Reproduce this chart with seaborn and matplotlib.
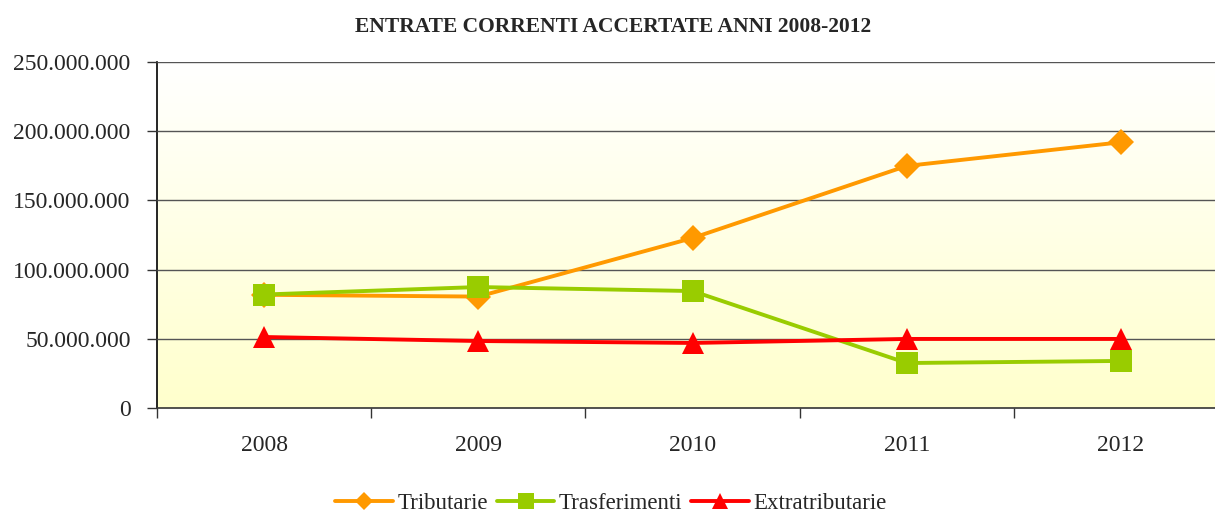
import matplotlib
matplotlib.use("Agg")
import matplotlib.pyplot as plt
import numpy as np
import pandas as pd
import seaborn as sns
from matplotlib.colors import LinearSegmentedColormap

# values
anni = ["2008", "2009", "2010", "2011", "2012"]
tributarie = [81.8e6, 80.5e6, 122.8e6, 174.9e6, 192.0e6]
trasferimenti = [82.0e6, 87.4e6, 84.5e6, 32.5e6, 34.0e6]
extratributarie = [51.3e6, 48.4e6, 47.0e6, 49.9e6, 49.9e6]
serie = ["Tributarie", "Trasferimenti", "Extratributarie"]

df = pd.DataFrame({
    "pos": list(range(len(anni))) * 3,
    "valore": tributarie + trasferimenti + extratributarie,
    "serie": np.repeat(serie, len(anni)),
})

sns.set_style("white")
plt.rcParams["font.family"] = ["Liberation Serif", "DejaVu Serif"]

fig = plt.figure(figsize=(12.15, 5.17), dpi=100)
ax = fig.add_axes([157 / 1215, 1 - 408 / 517, (1228 - 157) / 1215, (408 - 62) / 517])

# background gradient white (top) -> pale yellow (bottom)
grad = np.linspace(0, 1, 256).reshape(-1, 1)
cmap = LinearSegmentedColormap.from_list("bg", ["#FFFFFF", "#FFFFCC"])
ax.imshow(grad, cmap=cmap, aspect="auto", extent=[-0.5, 4.5, 0, 250e6],
          origin="upper", zorder=0)

colori = {"Tributarie": "#FF9900", "Trasferimenti": "#99CC00",
          "Extratributarie": "#FF0000"}
marcatori = {"Tributarie": "D", "Trasferimenti": "s", "Extratributarie": "^"}

sns.lineplot(data=df, x="pos", y="valore", hue="serie", style="serie",
             palette=colori, markers=marcatori, dashes=False, linewidth=2.8,
             markersize=16, markeredgewidth=0, ax=ax, legend=False, zorder=3)
for line in ax.lines:
    if line.get_marker() == "D":
        line.set_markersize(13.5)

ax.set_xlim(-0.5, 4.5)
ax.set_ylim(0, 250e6)
ax.set_xticks(range(len(anni)))
ax.set_xticklabels(anni)
ax.set_xticks(np.arange(-0.5, 5, 1), minor=True)
ax.set_yticks(np.arange(0, 250e6 + 1, 50e6))
ax.set_yticklabels(["0" if v == 0 else f"{int(v):,}".replace(",", ".")
                    for v in np.arange(0, 250e6 + 1, 50e6)])
ax.tick_params(axis="x", which="major", length=0, pad=19.5, labelsize=17)
ax.tick_params(axis="x", which="minor", length=7, width=1, color="#333333",
               direction="out", bottom=True)
ax.tick_params(axis="y", length=7, width=1, color="#333333", direction="out",
               left=True, pad=12, labelsize=17)
ax.grid(axis="y", color="#555555", linewidth=1, zorder=1)
ax.set_axisbelow(False)
ax.set_xlabel("")
ax.set_ylabel("")
for s in ["top", "right"]:
    ax.spines[s].set_visible(False)
ax.spines["left"].set_color("black")
ax.spines["bottom"].set_color("#333333")
ax.spines["left"].set_linewidth(1.2)
ax.spines["bottom"].set_linewidth(1.2)

fig.text(613 / 1215, 1 - 27 / 517, "ENTRATE CORRENTI ACCERTATE ANNI 2008-2012",
         ha="center", va="center", fontsize=15.5, fontweight="bold")

handles = [plt.Line2D([], [], color=colori[s], marker=marcatori[s],
                      markersize=11 if s != "Tributarie" else 9.5,
                      markeredgewidth=0, linewidth=2.8) for s in serie]
fig.legend(handles, serie, loc="center", bbox_to_anchor=(611 / 1215, 1 - 503 / 517),
           ncol=3, frameon=False, fontsize=16.5, handlelength=2.5,
           columnspacing=0.4, handletextpad=0.2, borderpad=0.1)

fig.savefig("out.png", dpi=100)
